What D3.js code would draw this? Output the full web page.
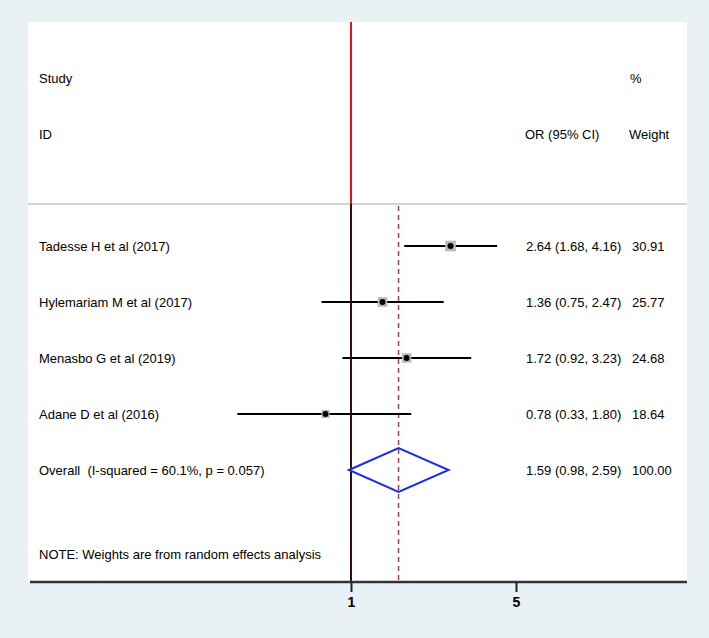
<!DOCTYPE html>
<html>
<head>
<meta charset="utf-8">
<script src="https://cdn.jsdelivr.net/npm/d3@7"></script>
<style>
  body { margin: 0; background: #e9f1f4; }
  svg text { font-family: "Liberation Sans", Arial, sans-serif; font-size: 13px; fill: #000; }
</style>
</head>
<body>
<div id="figure"></div>
<script>
// data
var studies = ["Tadesse H et al (2017)", "Hylemariam M et al (2017)", "Menasbo G et al (2019)", "Adane D et al (2016)"];
var orValues = [2.64, 1.36, 1.72, 0.78];
var lowerCI = [1.68, 0.75, 0.92, 0.33];
var upperCI = [4.16, 2.47, 3.23, 1.80];
var weights = [30.91, 25.77, 24.68, 18.64];

var overallLabel = "Overall  (I-squared = 60.1%, p = 0.057)";
var overallOR = 1.59;
var overallLower = 0.98;
var overallUpper = 2.59;
var overallWeight = 100.00;

var xTicks = [1, 5];
var noteText = "NOTE: Weights are from random effects analysis";

const W = 709, H = 638;
const panel = { left: 28, right: 687, top: 22, bottom: 582 };

var svg = d3.select("#figure")
    .append("svg")
    .attr("width", W)
    .attr("height", H);

svg.append("rect").attr("width", W).attr("height", H).attr("fill", "#e9f1f4");
svg.append("rect")
    .attr("x", panel.left).attr("y", panel.top)
    .attr("width", panel.right - panel.left)
    .attr("height", panel.bottom - panel.top)
    .attr("fill", "#fff");

// log scale for odds ratios
var x = d3.scaleLog().domain([0.2, 5]).range([186, 516]);
// row index -> vertical position
var y = d3.scaleLinear().domain([-1, 9]).range([panel.top, panel.bottom]);

const colLabel = 39, colEst = 526, colWeight = 632;
const sepRow = 2.25, overallRow = 7, noteRow = 8.5;
const fmt = d3.format(".2f");
const boxSize = w => 1.9 * Math.sqrt(w);

// header
svg.append("text").attr("x", colLabel).attr("y", y(0)).attr("dy", "0.35em").text("Study");
svg.append("text").attr("x", 630).attr("y", y(0)).attr("dy", "0.35em").text("%");
svg.append("text").attr("x", colLabel).attr("y", y(1)).attr("dy", "0.35em").text("ID");
svg.append("text").attr("x", 525).attr("y", y(1)).attr("dy", "0.35em").text("OR (95% CI)");
svg.append("text").attr("x", 629).attr("y", y(1)).attr("dy", "0.35em").text("Weight");

// separator
svg.append("line")
    .attr("x1", panel.left).attr("x2", panel.right)
    .attr("y1", y(sepRow)).attr("y2", y(sepRow))
    .attr("stroke", "#c4c4c4").attr("stroke-width", 1.5);

// null line: red above the separator, dark below
svg.append("line")
    .attr("x1", x(1)).attr("x2", x(1))
    .attr("y1", panel.top).attr("y2", y(sepRow))
    .attr("stroke", "#ee1111").attr("stroke-width", 2);
svg.append("line")
    .attr("x1", x(1)).attr("x2", x(1))
    .attr("y1", y(sepRow)).attr("y2", panel.bottom)
    .attr("stroke", "#3a0c0c").attr("stroke-width", 2);

// overall estimate dashed line
svg.append("line")
    .attr("x1", x(overallOR)).attr("x2", x(overallOR))
    .attr("y1", y(sepRow) + 2).attr("y2", panel.bottom)
    .attr("stroke", "#a3404c").attr("stroke-width", 1.5)
    .attr("stroke-dasharray", "5,4");

var rows = studies.map((s, i) => ({
    name: s, or: orValues[i], lo: lowerCI[i], hi: upperCI[i], w: weights[i], row: 3 + i
}));

var g = svg.selectAll(".study").data(rows).join("g").attr("class", "study");

g.append("line")
    .attr("x1", d => x(d.lo)).attr("x2", d => x(d.hi))
    .attr("y1", d => y(d.row)).attr("y2", d => y(d.row))
    .attr("stroke", "#000").attr("stroke-width", 2);

g.append("rect")
    .attr("x", d => x(d.or) - boxSize(d.w) / 2)
    .attr("y", d => y(d.row) - boxSize(d.w) / 2)
    .attr("width", d => boxSize(d.w))
    .attr("height", d => boxSize(d.w))
    .attr("fill", "#b8b8b8");

g.append("circle")
    .attr("cx", d => x(d.or)).attr("cy", d => y(d.row))
    .attr("r", 3).attr("fill", "#000");

g.append("text").attr("x", colLabel).attr("y", d => y(d.row)).attr("dy", "0.35em").text(d => d.name);
g.append("text").attr("x", colEst).attr("y", d => y(d.row)).attr("dy", "0.35em")
    .text(d => fmt(d.or) + " (" + fmt(d.lo) + ", " + fmt(d.hi) + ")");
g.append("text").attr("x", colWeight).attr("y", d => y(d.row)).attr("dy", "0.35em").text(d => fmt(d.w));

// overall diamond
var yo = y(overallRow);
svg.append("path")
    .attr("d", d3.line()([
        [x(overallLower), yo], [x(overallOR), yo - 22],
        [x(overallUpper), yo], [x(overallOR), yo + 22]
    ]) + "Z")
    .attr("fill", "none")
    .attr("stroke", "#1a2ee6").attr("stroke-width", 2);

svg.append("text").attr("x", colLabel).attr("y", yo).attr("dy", "0.35em").style("white-space", "pre").text(overallLabel);
svg.append("text").attr("x", colEst).attr("y", yo).attr("dy", "0.35em")
    .text(fmt(overallOR) + " (" + fmt(overallLower) + ", " + fmt(overallUpper) + ")");
svg.append("text").attr("x", colWeight).attr("y", yo).attr("dy", "0.35em").text(fmt(overallWeight));

svg.append("text").attr("x", colLabel).attr("y", y(noteRow)).attr("dy", "0.35em").text(noteText);

// x axis
svg.append("line")
    .attr("x1", panel.left + 2).attr("x2", panel.right)
    .attr("y1", panel.bottom).attr("y2", panel.bottom)
    .attr("stroke", "#333").attr("stroke-width", 2.5);

var xAxis = svg.append("g")
    .attr("transform", `translate(0,${panel.bottom})`)
    .call(d3.axisBottom(x).tickValues(xTicks).tickFormat(d3.format("d")).tickSize(10).tickPadding(5));
xAxis.select(".domain").remove();
xAxis.selectAll(".tick line").attr("stroke", "#222").attr("stroke-width", 2);
xAxis.selectAll(".tick text")
    .style("font-family", "'Liberation Sans', Arial, sans-serif")
    .style("font-size", "14px").style("font-weight", "bold").attr("fill", "#000");
</script>
</body>
</html>
